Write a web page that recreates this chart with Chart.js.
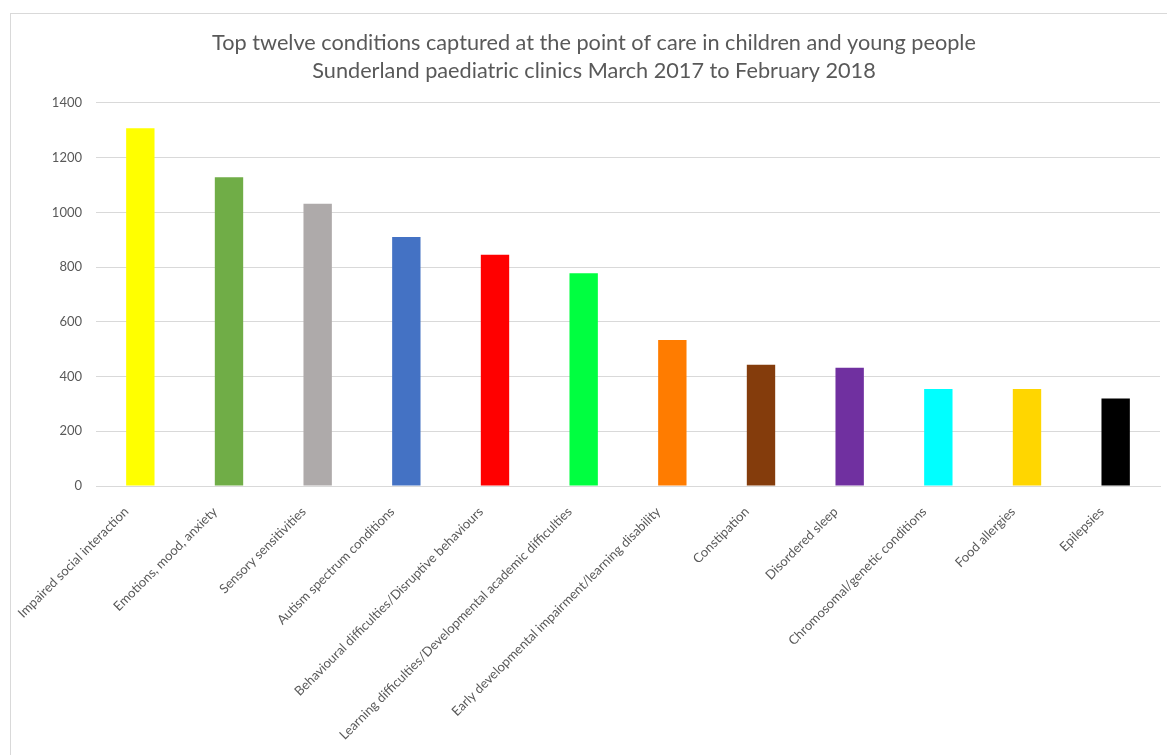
<!DOCTYPE html>
<html>
<head>
<meta charset="utf-8">
<script src="https://cdn.jsdelivr.net/npm/chart.js@4/dist/chart.umd.min.js"></script>
<style>
  html, body { margin: 0; padding: 0; background: #fff; }
  #wrap { width: 1167px; height: 755px; }
</style>
</head>
<body>
<div id="wrap"><canvas id="grafico"></canvas></div>
<script>
const condicoes = [
  "Impaired social interaction",
  "Emotions, mood, anxiety",
  "Sensory sensitivities",
  "Autism spectrum conditions",
  "Behavioural difficulties/Disruptive behaviours",
  "Learning difficulties/Developmental academic difficulties",
  "Early developmental impairment/learning disability",
  "Constipation",
  "Disordered sleep",
  "Chromosomal/genetic conditions",
  "Food allergies",
  "Epilepsies",
];
const casos = [1308, 1129, 1032, 910, 845, 778, 534, 443, 432, 355, 355, 320];
const cores = [
  "#FFFF00", "#70AD47", "#AEAAAA", "#4472C4", "#FF0000", "#00FF40",
  "#FF7C00", "#843C0C", "#7030A0", "#00FFFF", "#FFD600", "#000000",
];
const titulo = [
  "Top twelve conditions captured at the point of care in children and young people",
  "Sunderland paediatric clinics March 2017 to February 2018",
];

const texto = "#595959";
const linha = "#d9d9d9";

// fundo branco e moldura do gráfico
const moldura = {
  id: "moldura",
  beforeDraw(chart) {
    const c = chart.ctx;
    c.save();
    c.fillStyle = "#fff";
    c.fillRect(0, 0, chart.width, chart.height);
    c.strokeStyle = linha;
    c.lineWidth = 1;
    c.strokeRect(10.5, 13.5, chart.width + 50, chart.height + 50);
    c.restore();
  },
};

const ctx = document.getElementById("grafico").getContext("2d");
new Chart(ctx, {
  type: "bar",
  data: {
    labels: condicoes,
    datasets: [{
      data: casos,
      backgroundColor: cores,
      borderWidth: 0,
      categoryPercentage: 1,
      barPercentage: 0.32,
    }],
  },
  options: {
    responsive: true,
    maintainAspectRatio: false,
    animation: false,
    layout: { padding: { left: 28, right: 7, top: 29, bottom: 0 } },
    plugins: {
      legend: { display: false },
      tooltip: { enabled: false },
      title: {
        display: true,
        text: titulo,
        color: texto,
        font: { family: "Lato", size: 21.7, weight: "normal", lineHeight: 1.29 },
        padding: { top: 0, bottom: 18 },
      },
    },
    scales: {
      x: {
        afterFit: (s) => { s.height = 269; },
        grid: { display: false, drawTicks: false },
        border: { color: linha, width: 1 },
        ticks: {
          autoSkip: false,
          maxRotation: 45,
          minRotation: 45,
          padding: 18,
          labelOffset: -14,
          color: texto,
          font: { family: "Lato", size: 13 },
        },
      },
      y: {
        min: 0,
        max: 1400,
        afterFit: (s) => { s.width = 68; },
        grid: { color: linha, lineWidth: 1, drawTicks: false },
        border: { display: false },
        ticks: {
          stepSize: 200,
          padding: 14,
          color: texto,
          font: { family: "Lato", size: 13 },
          callback: (v) => String(v),
        },
      },
    },
  },
  plugins: [moldura],
});
</script>
</body>
</html>
